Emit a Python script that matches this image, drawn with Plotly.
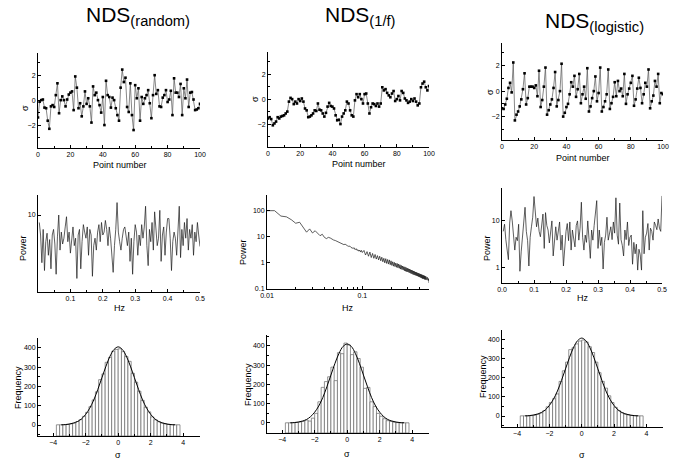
import plotly.graph_objects as go

W, H = 685, 468

# ---------------- data ----------------
point_number = list(range(101))

ts_random = [-1.39, -0.13, 0.0, 0.05, -0.6, -0.65, -1.65, -2.3, -0.5, -0.4,
             -0.55, 0.4, 1.35, -1.05, 0.0, 0.3, 0.0, -0.5, 0.05, 0.45,
             0.6, 0.7, -0.8, 1.9, 1.0, -0.65, -0.25, -1.3, -0.5, 0.7,
             -0.3, 0.15, -0.5, -1.8, 1.1, 0.4, 0.6, 0.0, -0.4, -1.0,
             0.25, -2.0, 1.55, 0.4, 0.25, -0.6, 0.2, 0.0, -0.65, -1.2,
             -1.65, 1.0, 2.45, 1.45, 1.8, -0.55, -0.95, 1.35, -1.2, -2.4,
             1.2, 0.15, 0.95, -1.65, 0.25, -0.3, 0.15, 0.4, 0.8, -0.25,
             -1.45, 0.4, 2.0, 0.5, 0.8, -0.5, -0.55, 0.2, 0.4, 0.8,
             -0.15, 0.05, 0.75, -1.2, 1.75, 0.6, 0.6, 0.25, 1.3, -1.2,
             0.95, 0.15, 1.65, -0.55, 0.6, 0.65, 0.05, -0.8, -0.75, -0.65,
             -0.3]

ts_1f = [-1.55, -1.45, -1.6, -2.1, -1.95, -1.8, -1.45, -1.55, -1.4, -1.35,
         -1.3, -1.15, -1.0, -0.2, 0.1, 0.0, -0.4, -0.2, -0.35, 0.0,
         -0.15, 0.05, -0.2, -0.75, -0.9, -1.45, -1.4, -1.3, -1.15, -0.9,
         -0.95, -0.35, -0.85, -0.9, -1.15, -1.4, -1.1, -0.6, -0.3, -0.55,
         -0.6, -0.75, -1.3, -1.7, -1.65, -2.0, -1.4, -1.15, -0.9, -0.2,
         -0.35, -0.9, -1.3, -1.4, -0.1, 0.4, 0.15, 0.4, 0.0, -0.35,
         0.4, 0.45, -0.35, -1.15, -0.65, -0.35, -0.4, -0.55, -0.35, -0.6,
         -0.35, 0.95, 0.7, 0.8, 0.5, 0.3, 0.15, 0.45, 0.65, -0.15,
         0.0, 0.25, -0.1, 0.65, 0.5, 0.05, -0.1, -0.3, -0.2, 0.0,
         -0.15, 0.05, -0.2, -0.5, -0.35, 0.95, 1.25, 1.4, 0.95, 0.7,
         1.05]

ts_logistic = [-1.35, -1.4, -1.05, -0.6, 0.25, 0.65, -0.1, 2.25, -2.3, -1.85,
               -1.6, -1.2, -0.65, 0.15, 1.4, -1.05, -0.55, 0.35, 0.35, 0.35,
               0.25, 0.45, -0.4, 1.6, -1.25, -0.7, 0.35, 1.85, -1.85, -1.5,
               -1.05, -0.65, 0.25, 1.5, -1.2, -0.7, 0.0, 2.15, -2.0, -1.7,
               -1.25, -1.0, -0.25, 0.7, 0.35, 1.2, -0.45, 0.15, 1.35, -0.95,
               -0.25, 0.35, -0.6, 1.8, -1.6, -1.2, -0.55, 0.0, 1.15, -0.8,
               -0.15, 1.85, -1.6, -1.25, -0.8, -0.25, 1.7, -1.4, -0.95, -0.45,
               0.7, -0.4, 0.8, 0.0, 0.2, -0.4, 1.35, -1.0, -0.25, 0.2,
               0.65, 1.2, -1.15, -0.65, 0.2, 1.05, 0.25, -0.95, -0.25, 0.65,
               0.35, 1.7, -1.35, -0.8, -0.35, 0.8, 0.35, 1.35, -0.95, -0.15,
               -0.25]

# power spectra (Hz grid 0.004 .. 0.5)
hz_lin = [round(0.004 * k, 3) for k in range(1, 126)]

pow_random = [8.0, 5.5, 2.4, 6.5, 1.9, 4.5, 5.8, 3.0, 4.8, 2.0,
              5.5, 6.5, 4.2, 1.7, 5.2, 10.0, 3.5, 6.0, 4.2, 5.0,
              7.0, 9.5, 4.5, 6.0, 3.2, 5.5, 7.0, 4.0, 5.0, 1.5,
              5.5, 6.5, 2.0, 4.5, 7.5, 6.0, 5.0, 7.0, 3.0, 6.5,
              5.5, 1.6, 4.0, 5.0, 3.5, 6.0, 7.5, 4.5, 8.0, 5.5,
              6.0, 8.5, 6.5, 4.0, 7.0, 5.0, 2.5, 1.8, 4.0, 6.5,
              14.5, 6.0, 4.5, 3.5, 5.0, 6.5, 7.0, 5.5, 4.0, 6.0,
              2.5, 5.0, 1.7, 4.5, 7.5, 6.0, 3.0, 5.5, 4.0, 7.5,
              5.0, 7.0, 13.0, 4.0, 2.2, 6.5, 4.5, 8.0, 3.5, 11.0,
              6.0, 4.0, 5.0, 11.5, 2.5, 5.5, 7.0, 3.0, 6.0, 9.0,
              9.0, 5.0, 1.9, 4.5, 6.0, 5.0, 3.0, 7.0, 13.0, 2.8,
              6.5, 4.0, 8.0, 5.0, 9.0, 3.5, 6.5, 5.0, 7.5, 3.0,
              6.0, 4.5, 8.0, 5.5, 3.9]

pow_logistic = [6.0, 8.5, 4.0, 2.5, 1.5, 9.0, 16.5, 10.0, 5.5, 2.4,
                4.5, 3.8, 8.5, 0.85, 2.2, 4.5, 6.5, 19.5, 6.0, 3.8,
                1.1, 4.5, 7.5, 12.0, 33.0, 13.0, 7.5, 11.5, 6.0, 4.6,
                9.0, 14.0, 2.6, 15.0, 8.0, 6.4, 3.4, 7.0, 10.0, 1.8,
                4.0, 7.5, 3.9, 5.5, 9.5, 2.4, 5.0, 1.1, 3.4, 6.0,
                8.8, 3.8, 9.5, 2.4, 6.4, 4.0, 2.8, 8.0, 10.0, 3.9,
                7.0, 25.0, 4.5, 2.4, 5.0, 3.5, 10.0, 4.0, 1.6, 6.4,
                3.9, 8.0, 13.0, 27.0, 2.6, 6.4, 3.0, 4.5, 0.95, 3.5,
                5.0, 12.0, 3.9, 6.0, 7.5, 4.0, 9.5, 5.5, 31.0, 5.0,
                3.2, 24.0, 4.0, 3.0, 1.8, 6.4, 4.0, 9.5, 3.0, 4.5,
                5.0, 1.2, 3.5, 2.0, 3.2, 0.9, 2.5, 1.9, 0.9, 16.5,
                2.0, 4.5, 5.5, 8.8, 2.4, 7.0, 6.0, 3.9, 9.5, 8.0,
                6.5, 11.0, 7.0, 6.0, 34.0]

hz_1f = [round(0.010 + 0.002 * k, 3) for k in range(46)] + \
        [round(0.104 + 0.004 * k, 3) for k in range(100)]

pow_1f = [100, 100, 62, 58, 45, 33, 36, 24, 15, 20,
          14, 17, 13, 11, 12.5, 9.5, 8.5, 9.5, 9.0, 8.0,
          7.5, 7.2, 6.8, 6.5, 6.2, 5.6, 5.5, 5.0, 5.2, 4.6,
          4.5, 4.3, 4.4, 3.9, 3.8, 3.6, 3.8, 3.2, 3.5, 3.0,
          3.2, 2.8, 3.1, 2.6, 3.0, 2.5,
          3.0, 2.0, 2.7, 1.8, 2.6, 1.6, 2.3, 1.5, 2.1, 1.4,
          1.9, 1.3, 1.8, 1.2, 1.65, 1.1, 1.5, 1.0, 1.45, 0.95,
          1.35, 0.9, 1.3, 0.85, 1.2, 0.8, 1.1, 0.75, 1.05, 0.72,
          0.98, 0.68, 0.95, 0.65, 0.9, 0.62, 0.85, 0.58, 0.8, 0.56,
          0.76, 0.54, 0.72, 0.5, 0.7, 0.48, 0.66, 0.46, 0.63, 0.45,
          0.6, 0.43, 0.58, 0.41, 0.55, 0.39, 0.53, 0.38, 0.51, 0.36,
          0.49, 0.35, 0.47, 0.34, 0.45, 0.33, 0.44, 0.32, 0.42, 0.31,
          0.41, 0.3, 0.4, 0.29, 0.38, 0.28, 0.37, 0.27, 0.36, 0.26,
          0.35, 0.25, 0.34, 0.25, 0.33, 0.24, 0.32, 0.23, 0.31, 0.23,
          0.3, 0.22, 0.29, 0.22, 0.28, 0.21, 0.27, 0.21, 0.25, 0.17]

# histograms (bin centres, width 0.2)
sigma_bins = [round(-3.7 + 0.2 * k, 1) for k in range(38)]

hist_random = [1, 1, 2, 3, 6, 10, 18, 28, 45, 66,
               95, 130, 172, 235, 265, 325, 350, 382, 392, 395,
               380, 355, 330, 268, 222, 175, 128, 92, 68, 42,
               27, 17, 10, 6, 3, 2, 1, 1]
hist_1f = [1, 1, 2, 3, 5, 8, 15, 10, 25, 50,
           110, 185, 215, 240, 290, 220, 365, 360, 415, 405,
           355, 370, 335, 290, 180, 185, 110, 85, 50, 35,
           22, 12, 8, 4, 2, 1, 1, 1]
hist_logistic = [1, 1, 1, 2, 4, 9, 16, 28, 48, 70,
                 90, 115, 180, 235, 280, 345, 355, 375, 390, 395,
                 385, 360, 330, 280, 225, 180, 145, 105, 70, 45,
                 28, 17, 10, 6, 3, 2, 1, 1]

fit_sigma = [-3.5, -3.25, -3.0, -2.75, -2.5, -2.25, -2.0, -1.75, -1.5, -1.25,
             -1.0, -0.75, -0.5, -0.25, 0.0, 0.25, 0.5, 0.75, 1.0, 1.25,
             1.5, 1.75, 2.0, 2.25, 2.5, 2.75, 3.0, 3.25, 3.5]
fit_random = [1, 2, 5, 10, 18, 32, 55, 87, 130, 185,
              245, 305, 357, 392, 405, 392, 357, 305, 245, 185,
              130, 87, 55, 32, 18, 10, 5, 2, 1]
fit_1f = [1, 2, 5, 10, 18, 33, 56, 88, 132, 188,
          249, 310, 362, 398, 410, 398, 362, 310, 249, 188,
          132, 88, 56, 33, 18, 10, 5, 2, 1]
fit_logistic = [1, 2, 5, 10, 18, 32, 55, 87, 130, 185,
                245, 305, 357, 392, 405, 392, 357, 305, 245, 185,
                130, 87, 55, 32, 18, 10, 5, 2, 1]

titles = ["(random)", "(1/f)", "(logistic)"]

# ---------------- layout helpers ----------------
FONT = "Liberation Sans, Arial, sans-serif"


def xd(a, b):
    return [a / W, b / W]


def yd(top, bottom):
    return [1 - bottom / H, 1 - top / H]


def base_axis(**kw):
    d = dict(showline=True, linecolor="black", linewidth=1, ticks="inside",
             ticklen=3, tickwidth=1, tickcolor="black", showgrid=False,
             zeroline=False, automargin=False,
             tickfont=dict(size=7, family=FONT, color="black"))
    d.update(kw)
    return d


fig = go.Figure()

# panel boxes: (left, right, top, bottom) in px
boxes = {
    1: (38, 200, 53, 148), 2: (268, 429, 52, 147), 3: (502, 663, 43, 140),
    4: (38, 200, 195, 292), 5: (267, 429, 195, 289), 6: (502, 662, 188, 283),
    7: (38, 200, 338, 436), 8: (267, 429, 335, 433), 9: (502, 663, 330, 427),
}

layout_axes = {}


def ax_names(i):
    s = "" if i == 1 else str(i)
    return "x" + s, "y" + s, "xaxis" + s, "yaxis" + s


MINOR = dict(ticks="inside", ticklen=2)

# Row 1 : time series
for i, ts in zip([1, 2, 3], [ts_random, ts_1f, ts_logistic]):
    xr, yr, xa, ya = ax_names(i)
    l, r, t, b = boxes[i]
    fig.add_trace(go.Scatter(x=point_number, y=ts, mode="lines+markers",
                             line=dict(color="#555", width=0.7),
                             marker=dict(symbol="square", size=2.6, color="black"),
                             xaxis=xr, yaxis=yr))
    layout_axes[xa] = base_axis(domain=xd(l, r), range=[0, 100], anchor=yr,
                                tickvals=[0, 20, 40, 60, 80, 100],
                                minor=dict(MINOR, dtick=10))
    layout_axes[ya] = base_axis(domain=yd(t, b), range=[-3.84, 3.78], anchor=xr,
                                tickvals=[-2, 0, 2],
                                minor=dict(MINOR, dtick=1))

# Row 2 : power spectra
specs = [(4, hz_lin, pow_random), (5, hz_1f, pow_1f), (6, hz_lin, pow_logistic)]
for i, f, p in specs:
    xr, yr, xa, ya = ax_names(i)
    l, r, t, b = boxes[i]
    fig.add_trace(go.Scatter(x=f, y=p, mode="lines",
                             line=dict(color="#1a1a1a", width=0.7),
                             xaxis=xr, yaxis=yr))
    if i == 4:
        layout_axes[xa] = base_axis(domain=xd(l, r), range=[0, 0.5], anchor=yr,
                                    tickvals=[0.1, 0.2, 0.3, 0.4, 0.5],
                                    ticktext=["0.1", "0.2", "0.3", "0.4", "0.5"],
                                    minor=dict(MINOR, dtick=0.05))
        layout_axes[ya] = base_axis(domain=yd(t, b), type="log", range=[0, 1.26],
                                    anchor=xr, tickvals=[10], ticktext=["10"])
    elif i == 5:
        layout_axes[xa] = base_axis(domain=xd(l, r), type="log", range=[-2, -0.301],
                                    anchor=yr, tickvals=[0.01, 0.1],
                                    ticktext=["0.01", "0.1"],
                                    minor=dict(MINOR, tickvals=[0.02, 0.03, 0.04, 0.05, 0.06,
                                                                0.07, 0.08, 0.09, 0.2, 0.3,
                                                                0.4, 0.5]))
        layout_axes[ya] = base_axis(domain=yd(t, b), type="log", range=[-1, 2.6],
                                    anchor=xr, tickvals=[0.1, 1, 10, 100],
                                    ticktext=["0.1", "1", "10", "100"])
    else:
        layout_axes[xa] = base_axis(domain=xd(l, r), range=[0, 0.5], anchor=yr,
                                    tickvals=[0, 0.1, 0.2, 0.3, 0.4, 0.5],
                                    ticktext=["0.0", "0.1", "0.2", "0.3", "0.4", "0.5"],
                                    minor=dict(MINOR, dtick=0.05))
        layout_axes[ya] = base_axis(domain=yd(t, b), type="log", range=[-0.32, 1.70],
                                    anchor=xr, tickvals=[1, 10], ticktext=["1", "10"])

# Row 3 : histograms
hists = [(7, hist_random, fit_random, [-57, 451]),
         (8, hist_1f, fit_1f, [-52, 457]),
         (9, hist_logistic, fit_logistic, [-57, 447])]
for i, counts, fit, yrange in hists:
    xr, yr, xa, ya = ax_names(i)
    l, r, t, b = boxes[i]
    ymin = yrange[0]
    fig.add_trace(go.Bar(x=sigma_bins, y=[c - ymin for c in counts], base=ymin,
                         width=0.2,
                         marker=dict(color="white", line=dict(color="#666", width=0.7)),
                         xaxis=xr, yaxis=yr))
    fig.add_trace(go.Scatter(x=fit_sigma, y=fit, mode="lines", line_shape="spline",
                             line=dict(color="black", width=1),
                             xaxis=xr, yaxis=yr))
    layout_axes[xa] = base_axis(domain=xd(l, r), range=[-4.93, 5.03], anchor=yr,
                                tickvals=[-4, -2, 0, 2, 4],
                                minor=dict(MINOR, dtick=1))
    layout_axes[ya] = base_axis(domain=yd(t, b), range=yrange, anchor=xr,
                                tickvals=[0, 100, 200, 300, 400],
                                minor=dict(MINOR, dtick=50))

# ---------------- annotations ----------------
ann = []


def text(x, y, s, size=10, angle=0):
    ann.append(dict(x=x / W, y=1 - y / H, xref="paper", yref="paper", text=s,
                    showarrow=False, textangle=angle,
                    font=dict(size=size, family=FONT, color="black"),
                    xanchor="center", yanchor="middle"))


# column titles
for (cx, cy), sub in zip([(138, 16), (360, 16), (594, 22)], titles):
    text(cx, cy, "NDS<sub>" + sub + "</sub>", size=21)

# row 1 axis titles
for cx, cy in [(120, 165), (359, 164), (583, 158)]:
    text(cx, cy, "Point number", size=9)
for cx, cy in [(25, 108), (255, 99), (490, 92)]:
    text(cx, cy, "σ", size=9, angle=-90)
# row 2
for cx, cy in [(120, 308), (348, 308), (583, 298)]:
    text(cx, cy, "Hz", size=9)
for cx, cy in [(23, 248), (243, 252), (487, 248)]:
    text(cx, cy, "Power", size=9, angle=-90)
# row 3
for cx, cy in [(118, 455), (347, 454), (582, 455)]:
    text(cx, cy, "σ", size=9)
for cx, cy in [(18, 388), (248, 385), (483, 377)]:
    text(cx, cy, "Frequency", size=9, angle=-90)

fig.update_layout(width=W, height=H, margin=dict(l=0, r=0, t=0, b=0),
                  paper_bgcolor="white", plot_bgcolor="white", showlegend=False,
                  barmode="overlay", annotations=ann, **layout_axes)

fig.write_html("out.html", config={"displayModeBar": False},
               post_script="document.body.style.margin='0';"
                           "document.body.style.overflow='hidden';")
